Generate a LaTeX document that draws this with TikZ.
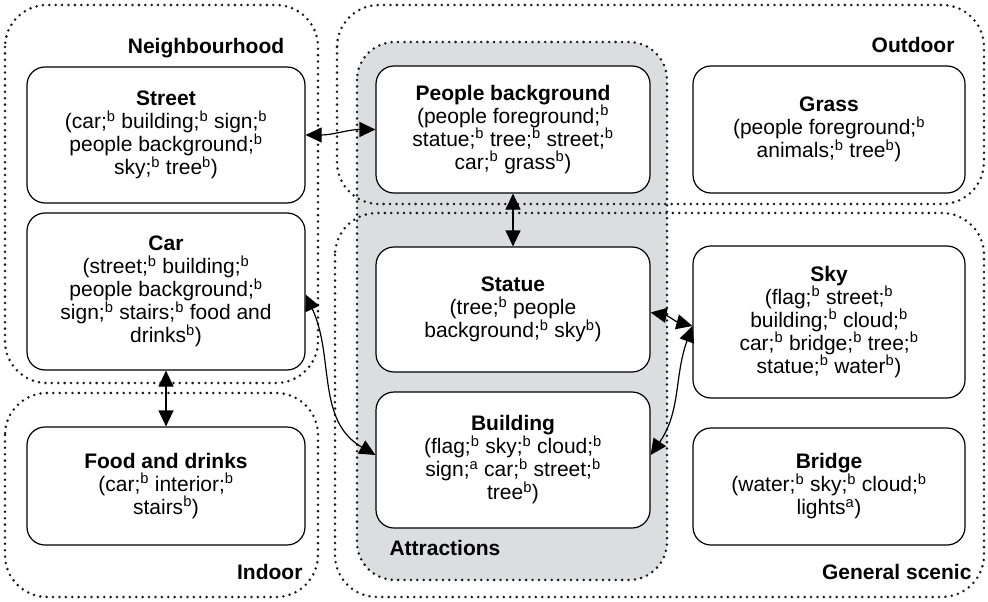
\documentclass[tikz,border=0pt]{standalone}
\usepackage{fontspec}
\setmainfont{Liberation Sans}
\usetikzlibrary{arrows.meta}
\definecolor{attrgray}{RGB}{220,221,223}
\newcommand\supb{\textsuperscript{b}}
\newcommand\supa{\textsuperscript{a}}
\begin{document}
\begin{tikzpicture}[x=1pt,y=-1pt,
  every node/.style={font=\fontsize{21}{23}\selectfont},
  grp/.style={draw=black!90, line width=2.8pt, dash pattern=on 0pt off 6.4pt, line cap=round, rounded corners=42pt},
  item/.style={draw, fill=white, line width=1.2pt, rounded corners=18pt, align=center, inner sep=0pt},
  glabel/.style={font=\fontsize{21}{23}\selectfont\bfseries},
  link/.style={line width=1.2pt, {Triangle[length=16pt,width=15pt]}-{Triangle[length=16pt,width=15pt]}}
]
\useasboundingbox (0,0) rectangle (988,602);

% shaded attractions region
\fill[attrgray, rounded corners=38pt] (357,42) rectangle (667,580);

% dotted category outlines
\draw[grp] (5,5) rectangle (318,383);
\draw[grp] (5,393) rectangle (318,597);
\draw[grp] (337,5) rectangle (984,204);
\draw[grp] (335,213) rectangle (984,597);
\draw[grp, rounded corners=38pt] (357,42) rectangle (667,580);

% category labels
\node[glabel] (lneigh) at (206,48) {Neighbourhood};
\node[glabel, anchor=east] (lout) at (958,45) {Outdoor};
\node[glabel, anchor=east] (lin) at (306,572) {Indoor};
\node[glabel, anchor=east] (lgen) at (975,572) {General scenic};
\node[glabel, anchor=west] (lattr) at (386,548) {Attractions};

% concept boxes
\node[item, minimum width=278, minimum height=136] (street) at (166,135)
  {\textbf{Street}\\(car;\supb{} building;\supb{} sign;\supb\\people background;\supb\\sky;\supb{} tree\supb)};
\node[item, minimum width=278, minimum height=157] (car) at (166,291.5)
  {\textbf{Car}\\(street;\supb{} building;\supb\\people background;\supb\\sign;\supb{} stairs;\supb{} food and\\drinks\supb)};
\node[item, minimum width=278, minimum height=118] (food) at (166,486)
  {\textbf{Food and drinks}\\(car;\supb{} interior;\supb\\stairs\supb)};
\node[item, minimum width=274, minimum height=127] (pb) at (513,129.5)
  {\textbf{People background}\\(people foreground;\supb\\statue;\supb{} tree;\supb{} street;\supb\\car;\supb{} grass\supb)};
\node[item, minimum width=272, minimum height=127] (grass) at (829,129.5)
  {\textbf{Grass}\\(people foreground;\supb\\animals;\supb{} tree\supb)};
\node[item, minimum width=274, minimum height=125] (statue) at (513,309.5)
  {\textbf{Statue}\\(tree;\supb{} people\\background;\supb{} sky\supb)};
\node[item, minimum width=274, minimum height=136] (building) at (513,460)
  {\textbf{Building}\\(flag;\supb{} sky;\supb{} cloud;\supb\\sign;\supa{} car;\supb{} street;\supb\\tree\supb)};
\node[item, minimum width=272, minimum height=152] (sky) at (829,322)
  {\textbf{Sky}\\(flag;\supb{} street;\supb\\building;\supb{} cloud;\supb\\car;\supb{} bridge;\supb{} tree;\supb\\statue;\supb{} water\supb)};
\node[item, minimum width=272, minimum height=117] (bridge) at (829,486.5)
  {\textbf{Bridge}\\(water;\supb{} sky;\supb{} cloud;\supb\\lights\supa)};

% co-occurrence links
\draw[link] (street.east) to[out=0,in=180] (pb.west);
\draw[link] (pb.south) -- (statue.north);
\draw[link] (car.south) -- (food.north);
\draw[link] ([yshift=-3pt]car.east) to[out=-65,in=150] ([yshift=5pt]building.west);
\draw[link] ([yshift=-3pt]statue.east) to[out=-10,in=165] ([yshift=-4pt]sky.west);
\draw[link] ([yshift=5pt]building.east) to[out=55,in=-110] ([yshift=-4pt]sky.west);
\end{tikzpicture}
\end{document}
